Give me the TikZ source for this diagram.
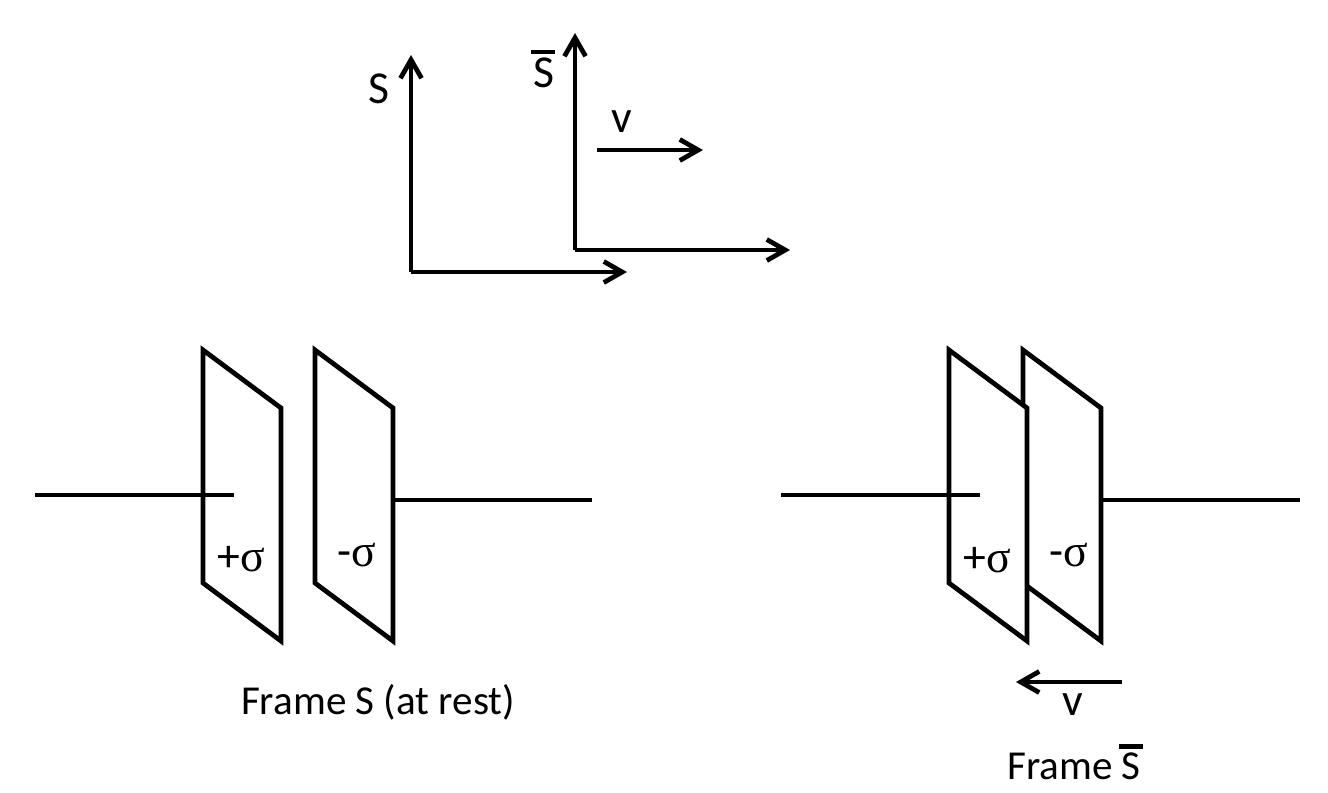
\documentclass[tikz,border=0pt]{standalone}
\usepackage{fontspec}
\setmainfont{Carlito}
\newfontfamily\greekfont{Liberation Serif}
\usetikzlibrary{arrows.meta}
\newcommand{\Sbar}{\leavevmode\rlap{\kern-1.6pt\raisebox{.74em}{\rule{13.6pt}{2.5pt}}}S}
\newcommand{\sig}{{\greekfont\char"03C3}}
\tikzset{
    wire/.style={line width=2.7pt},
    plate/.style={line width=2.7pt, draw=black, fill=white, line join=miter},
    lbl/.style={inner sep=0pt, font=\fontsize{26}{30}\selectfont},
    caption/.style={inner sep=0pt, font=\fontsize{23.4}{28}\selectfont},
}
\begin{document}
\begin{tikzpicture}[>={Straight Barb[length=10.5pt, width=12pt, line width=2.7pt]}, x=0.02cm, y=-0.02cm]
        \useasboundingbox (0, 0) rectangle (1328, 792);

        % Assi S
        \coordinate (o1) at (411, 272);
        \coordinate (y1) at (411, 55);
        \coordinate (x1) at (627, 272);
        \draw[->, wire] (o1) -- (y1);
        \draw[->, wire] (o1) -- (x1);
        \node[lbl] (labelS) at (379, 89) {S};

        % Assi S barra
        \coordinate (o2) at (575, 250);
        \coordinate (y2) at (575, 33);
        \coordinate (x2) at (790, 250);
        \draw[->, wire] (o2) -- (y2);
        \draw[->, wire] (o2) -- (x2);
        \node[lbl] (labelSbar) at (544, 69) {\Sbar};

        % Velocita
        \coordinate (va) at (597, 150);
        \coordinate (vb) at (703, 150);
        \draw[->, wire] (va) -- (vb);
        \node[lbl] (labelv) at (622, 122) {v};

        % Piastre a riposo
        \coordinate (wa) at (35, 495);
        \coordinate (wb) at (234, 495);
        \coordinate (wc) at (393, 500);
        \coordinate (wd) at (592, 500);
        \draw[plate] (203, 350) -- (281, 408) -- (281, 641) -- (203, 583) -- cycle;
        \draw[plate] (315, 350) -- (393, 408) -- (393, 641) -- (315, 583) -- cycle;
        \draw[wire] (wa) -- (wb);
        \draw[wire] (wc) -- (wd);
        \node[lbl] (plus) at (241, 559) {+\sig};
        \node[lbl] (minus) at (357, 555) {-\sig};
        \node[caption] (frameS) at (378, 702) {Frame S (at rest)};

        % Piastre in moto
        \coordinate (wp) at (781, 495);
        \coordinate (wq) at (980, 495);
        \coordinate (wr) at (1101, 500);
        \coordinate (ws) at (1300, 500);
        \draw[plate] (1023, 350) -- (1101, 408) -- (1101, 641) -- (1023, 583) -- cycle;
        \draw[plate] (949, 350) -- (1027, 408) -- (1027, 641) -- (949, 583) -- cycle;
        \draw[wire] (wp) -- (wq);
        \draw[wire] (wr) -- (ws);
        \node[lbl] (plusb) at (987, 560) {+\sig};
        \node[lbl] (minusb) at (1069, 555) {-\sig};

        % Velocita opposta
        \coordinate (ua) at (1122, 682);
        \coordinate (ub) at (1016, 682);
        \draw[->, wire] (ua) -- (ub);
        \node[lbl] (labelvb) at (1073, 705) {v};
        \node[caption] (frameSbar) at (1074, 762) {Frame \Sbar};
    \end{tikzpicture}
\end{document}
